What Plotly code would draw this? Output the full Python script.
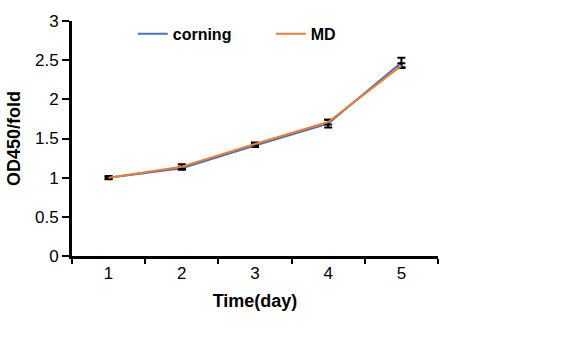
import plotly.graph_objects as go

days = ["1", "2", "3", "4", "5"]
corning = [1.00, 1.12, 1.41, 1.69, 2.47]
corning_err = [0.02, 0.02, 0.02, 0.05, 0.06]
md = [1.00, 1.14, 1.43, 1.71, 2.43]
md_err = [0.01, 0.03, 0.02, 0.03, 0.03]
y_ticks = [0, 0.5, 1, 1.5, 2, 2.5, 3]
y_labels = ["0", "0.5", "1", "1.5", "2", "2.5", "3"]

font = "Liberation Sans, Arial, sans-serif"

fig = go.Figure()
fig.add_trace(go.Scatter(
    x=days, y=corning, name="<b>corning</b>", mode="lines",
    line=dict(color="#4472C4", width=2),
    error_y=dict(type="data", array=corning_err, visible=True,
                 color="black", thickness=2, width=4),
))
fig.add_trace(go.Scatter(
    x=days, y=md, name="<b>MD</b>", mode="lines",
    line=dict(color="#ED7D31", width=2),
    error_y=dict(type="data", array=md_err, visible=True,
                 color="black", thickness=2, width=4),
))

fig.update_layout(
    width=577, height=337,
    margin=dict(l=70, r=139, t=12, b=81),
    paper_bgcolor="white", plot_bgcolor="white",
    font=dict(family=font, size=17, color="black"),
    showlegend=True,
    legend=dict(orientation="h", x=0.166, y=0.945, xanchor="left", yanchor="middle",
                font=dict(family=font, size=16, color="black"),
                bgcolor="rgba(0,0,0,0)", entrywidthmode="pixels",
                entrywidth=93, traceorder="normal"),
    xaxis=dict(
        type="category", tickson="boundaries", range=[-0.5, 4.5],
        showline=True, linecolor="black", linewidth=3,
        ticks="outside", ticklen=5, tickwidth=2, tickcolor="black",
        showgrid=False, zeroline=False,
        title=dict(text="<b>Time(day)</b>", standoff=12,
                   font=dict(family=font, size=18)),
        tickfont=dict(family=font, size=17),
    ),
    yaxis=dict(
        range=[0, 3], tickvals=y_ticks, ticktext=y_labels,
        showline=True, linecolor="black", linewidth=3,
        ticks="outside", ticklen=7, tickwidth=2, tickcolor="black",
        showgrid=False, zeroline=False,
        title=dict(text="<b>OD450/fold</b>", standoff=10,
                   font=dict(family=font, size=18)),
        tickfont=dict(family=font, size=17),
    ),
)

fig.write_html("out.html")
